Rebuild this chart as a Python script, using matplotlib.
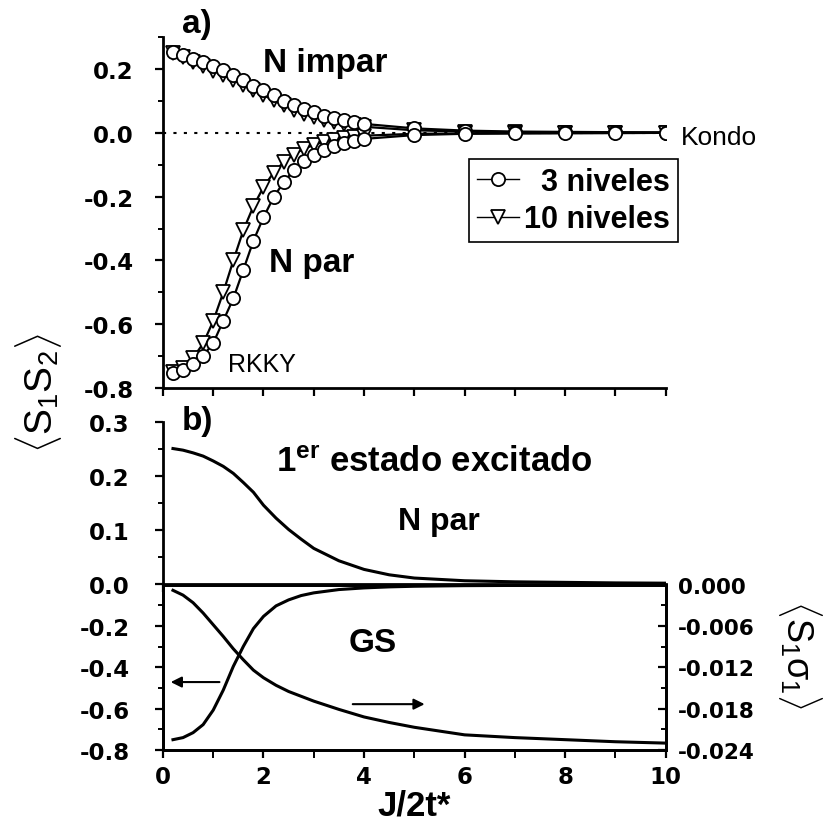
import numpy as np
import matplotlib.pyplot as plt

plt.rcParams['font.family'] = ['Liberation Sans', 'DejaVu Sans']
plt.rcParams['font.weight'] = 'bold'
plt.rcParams['axes.unicode_minus'] = False
plt.rcParams['mathtext.fontset'] = 'custom'
plt.rcParams['mathtext.rm'] = 'Liberation Sans:weight=normal'
plt.rcParams['mathtext.it'] = 'Liberation Sans:weight=normal'
plt.rcParams['mathtext.bf'] = 'Liberation Sans:bold'

# a) correlacion <S1 S2> para N impar / N par, 3 y 10 niveles
J_a = [0.2, 0.4, 0.6, 0.8, 1.0, 1.2, 1.4, 1.6, 1.8, 2.0, 2.2, 2.4, 2.6, 2.8, 3.0,
       3.2, 3.4, 3.6, 3.8, 4.0, 5.0, 6.0, 7.0, 8.0, 9.0, 10.0]
impar_3 = [0.253, 0.243, 0.232, 0.222, 0.209, 0.196, 0.180, 0.164, 0.148, 0.133,
           0.117, 0.101, 0.088, 0.075, 0.065, 0.054, 0.046, 0.039, 0.033, 0.028,
           0.014, 0.007, 0.004, 0.003, 0.002, 0.001]
impar_10 = [0.250, 0.237, 0.223, 0.210, 0.194, 0.181, 0.165, 0.149, 0.133, 0.118,
            0.102, 0.086, 0.073, 0.060, 0.051, 0.041, 0.034, 0.028, 0.023, 0.019,
            0.008, 0.004, 0.002, 0.001, 0.001, 0.001]
par_3 = [-0.751, -0.743, -0.725, -0.699, -0.659, -0.589, -0.519, -0.429, -0.338, -0.265,
         -0.202, -0.155, -0.118, -0.089, -0.071, -0.055, -0.042, -0.033, -0.025, -0.019,
         -0.007, -0.003, -0.002, -0.001, -0.001, 0.0]
par_10 = [-0.750, -0.738, -0.705, -0.660, -0.590, -0.500, -0.400, -0.305, -0.230, -0.170,
          -0.125, -0.092, -0.068, -0.050, -0.038, -0.028, -0.021, -0.016, -0.012, -0.009,
          -0.003, -0.002, -0.001, -0.001, 0.0, 0.0]

# b) primer estado excitado y GS
J_b = [0.2, 0.4, 0.6, 0.8, 1.0, 1.2, 1.4, 1.6, 1.8, 2.0, 2.25, 2.5, 2.75, 3.0, 3.5,
       4.0, 4.5, 5.0, 6.0, 7.0, 8.0, 9.0, 10.0]
exc_S1S2 = [0.251, 0.248, 0.243, 0.237, 0.228, 0.218, 0.205, 0.188, 0.170, 0.146,
            0.122, 0.101, 0.083, 0.066, 0.043, 0.027, 0.017, 0.011, 0.006, 0.004,
            0.003, 0.002, 0.0015]
gs_S1S2 = [-0.750, -0.740, -0.716, -0.677, -0.607, -0.510, -0.395, -0.298, -0.212, -0.153,
           -0.102, -0.073, -0.052, -0.039, -0.023, -0.015, -0.010, -0.007, -0.004, -0.003,
           -0.002, -0.0015, -0.001]
gs_S1s1 = [-0.0008, -0.0015, -0.0026, -0.0041, -0.0058, -0.0075, -0.0093, -0.0109, -0.0124,
           -0.0135, -0.0146, -0.0155, -0.0162, -0.0169, -0.0181, -0.0192, -0.0200, -0.0207,
           -0.0218, -0.0222, -0.0225, -0.0228, -0.0230]

fig = plt.figure(figsize=(8.27, 8.28), dpi=100)
ax_a = fig.add_axes([0.197, 0.530, 0.608, 0.424])
ax_b1 = fig.add_axes([0.197, 0.2935, 0.608, 0.1955])
ax_b2 = fig.add_axes([0.197, 0.093, 0.608, 0.1995])
ax_r = ax_b2.twinx()

SPW = 2.0
for ax in (ax_a, ax_b1, ax_b2, ax_r):
    for s in ax.spines.values():
        s.set_linewidth(SPW)
    ax.tick_params(which='major', length=6, width=1.6, labelsize=16.5,
                   labelfontfamily='DejaVu Sans')
    ax.tick_params(which='minor', length=3.5, width=1.4)

# ---- panel a
ax_a.axhline(0, color='k', lw=1.5, ls=(0, (1.5, 3.5)), zorder=1)
l10, = ax_a.plot(J_a, impar_10, '-v', color='k', lw=1.6, ms=10, mfc='white', mew=1.3, zorder=2)
ax_a.plot(J_a, par_10, '-v', color='k', lw=1.6, ms=10, mfc='white', mew=1.3, zorder=2)
l3, = ax_a.plot(J_a, impar_3, '-o', color='k', lw=1.6, ms=9.5, mfc='white', mew=1.3, zorder=3)
ax_a.plot(J_a, par_3, '-o', color='k', lw=1.6, ms=9.5, mfc='white', mew=1.3, zorder=3)

ax_a.set_xlim(0, 10)
ax_a.set_ylim(-0.8, 0.3)
ax_a.spines['top'].set_visible(False)
ax_a.spines['right'].set_visible(False)
ax_a.set_xticks(np.arange(0, 11, 1))
ax_a.tick_params(axis='x', labelbottom=False, direction='out')
ax_a.set_yticks([-0.8, -0.6, -0.4, -0.2, 0.0, 0.2])
ax_a.set_yticklabels(['-0.8', '-0.6', '-0.4', '-0.2', '0.0', '0.2'])
ax_a.set_yticks(np.arange(-0.7, 0.31, 0.2), minor=True)
ax_a.tick_params(axis='y', which='both', direction='out', pad=15)

ax_a.text(2.0, 0.195, 'N impar', fontsize=24)
ax_a.text(2.1, -0.433, 'N par', fontsize=24)
ax_a.text(1.3, -0.747, 'RKKY', fontsize=18, fontweight='normal')
ax_a.text(10.3, -0.035, 'Kondo', fontsize=19, fontweight='normal')
fig.text(182 / 827, 1 - 33 / 828, 'a)', fontsize=24)

leg = ax_a.legend([l3, l10], ['  3 niveles', '10 niveles'], loc='upper left',
                  bbox_to_anchor=(469 / 827, 1 - 160 / 828), bbox_transform=fig.transFigure,
                  fontsize=22, frameon=True, fancybox=False, framealpha=1,
                  edgecolor='k', borderpad=0.25, handlelength=1.4, handletextpad=0.15,
                  labelspacing=0.25, borderaxespad=0)
leg.get_frame().set_linewidth(1.2)
for h in leg.get_lines():
    h.set_linewidth(1.0)

# ---- panel b, parte superior (estado excitado)
ax_b1.plot(J_b, exc_S1S2, color='k', lw=2.2)
ax_b1.set_xlim(0, 10)
ax_b1.set_ylim(0, 0.3)
ax_b1.spines['top'].set_visible(False)
ax_b1.spines['right'].set_visible(False)
ax_b1.set_xticks(np.arange(0, 11, 1))
ax_b1.tick_params(axis='x', labelbottom=False, direction='out')
ax_b1.set_yticks([0.0, 0.1, 0.2, 0.3])
ax_b1.set_yticklabels(['0.0', '0.1', '0.2', '0.3'])
ax_b1.set_yticks([0.05, 0.15, 0.25], minor=True)
ax_b1.tick_params(axis='y', which='both', direction='out', pad=18)
ax_b1.text(2.24, 0.209, r'1$^{\mathbf{er}}$ estado excitado', fontsize=25)
ax_b1.text(4.68, 0.102, 'N par', fontsize=23)
fig.text(182 / 827, 1 - 430 / 828, 'b)', fontsize=24)

# ---- panel b, parte inferior (GS)
ax_b2.plot(J_b, gs_S1S2, color='k', lw=2.2)
ax_r.plot(J_b, gs_S1s1, color='k', lw=2.2)
ax_b2.set_xlim(0, 10)
ax_b2.set_ylim(-0.8, 0)
ax_b2.set_xticks([0, 2, 4, 6, 8, 10])
ax_b2.set_xticks([1, 3, 5, 7, 9], minor=True)
ax_b2.tick_params(axis='x', which='both', direction='out', pad=5)
ax_b2.tick_params(axis='x', which='minor', length=6)
ax_b2.set_yticks([-0.8, -0.6, -0.4, -0.2])
ax_b2.set_yticklabels(['-0.8', '-0.6', '-0.4', '-0.2'])
ax_b2.set_yticks([-0.7, -0.5, -0.3, -0.1], minor=True)
ax_b2.tick_params(axis='y', which='both', direction='out', pad=18)

ax_r.set_ylim(-0.024, 0)
ax_r.set_yticks([-0.024, -0.018, -0.012, -0.006, 0.0])
ax_r.set_yticklabels(['-0.024', '-0.018', '-0.012', '-0.006', '0.000'])
ax_r.set_yticks([-0.021, -0.015, -0.009, -0.003], minor=True)
ax_r.tick_params(axis='y', which='both', direction='in', pad=9, labelsize=15.5)

ax_b2.text(3.7, -0.32, 'GS', fontsize=24)
ax_b2.annotate('', xy=(0.1, -0.471), xytext=(1.18, -0.471),
               arrowprops=dict(arrowstyle='-|>', color='k', lw=1.5, mutation_scale=16))
ax_b2.annotate('', xy=(5.26, -0.578), xytext=(3.72, -0.578),
               arrowprops=dict(arrowstyle='-|>', color='k', lw=1.5, mutation_scale=16))

ax_b2.set_xlabel('J/2t*', fontsize=25, fontweight='bold', labelpad=0)
fig.text(38 / 827, 1 - 393 / 828, r'$\langle \mathrm{S}_1\mathrm{S}_2 \rangle$',
         fontsize=28, rotation=90, ha='center', va='center')
fig.text(800 / 827, 1 - 655 / 828, r'$\langle \mathrm{S}_1\sigma_1 \rangle$',
         fontsize=26, rotation=270, ha='center', va='center')

fig.savefig('out.png', dpi=100)
